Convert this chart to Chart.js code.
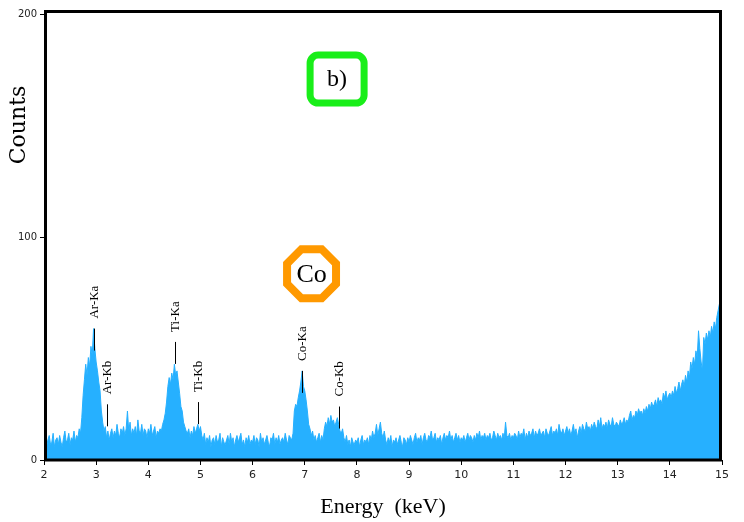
<!DOCTYPE html>
<html>
<head>
<meta charset="utf-8">
<script src="https://cdn.jsdelivr.net/npm/chart.js@4.4.1/dist/chart.umd.min.js"></script>
<style>
  html, body { margin: 0; padding: 0; background: #fff; }
  #wrap { width: 744px; height: 522px; position: relative; }
</style>
</head>
<body>
<div id="wrap"><canvas id="edsChart"></canvas></div>
<script>
// spectrum channels: 2.000 keV to 15.000 keV, 0.025 keV per channel
const startKeV = 2.0;
const channelKeV = 0.025;
const counts = [
  7, 10, 6, 9, 11, 7, 8, 12, 6, 9,          // 2.000
  10, 7, 11, 8, 6, 10, 13, 8, 9, 12,
  7, 10, 9, 13, 8, 11, 10, 14, 12, 19,
  29, 36, 43, 38, 46, 42, 51, 47, 59, 50,
  44, 40, 35, 31, 22, 17, 13, 15, 10, 13,   // 3.000
  9, 12, 14, 10, 13, 11, 16, 12, 10, 14,
  12, 15, 11, 14, 22, 13, 17, 11, 14, 12,
  15, 11, 18, 13, 12, 16, 11, 14, 13, 10,
  14, 12, 16, 11, 13, 15, 10, 13, 12, 14,   // 4.000
  13, 16, 18, 21, 26, 33, 37, 34, 39, 36,
  43, 38, 40, 35, 30, 24, 22, 17, 15, 13,
  12, 14, 10, 13, 11, 15, 12, 14, 16, 13,
  15, 11, 9, 12, 7, 10, 8, 11, 6, 9,        // 5.000
  10, 7, 11, 8, 9, 12, 6, 10, 8, 7,
  9, 11, 7, 12, 8, 10, 6, 9, 11, 8,
  10, 12, 7, 9, 6, 10, 8, 11, 7, 9,
  8, 11, 7, 10, 9, 6, 12, 8, 10, 7,         // 6.000
  9, 11, 8, 6, 10, 9, 12, 7, 10, 8,
  11, 7, 9, 10, 8, 12, 9, 7, 11, 10,
  9, 12, 22, 25, 24, 28, 31, 35, 40, 33,
  31, 27, 22, 16, 14, 11, 13, 9, 11, 8,     // 7.000
  10, 12, 8, 11, 9, 14, 17, 15, 19, 16,
  20, 17, 18, 15, 17, 19, 16, 13, 12, 14,
  10, 8, 11, 7, 9, 6, 10, 8, 7, 9,
  8, 10, 6, 9, 11, 7, 9, 8, 10, 7,          // 8.000
  11, 9, 13, 10, 12, 16, 11, 14, 17, 12,
  10, 13, 9, 7, 10, 8, 11, 6, 9, 8,
  10, 7, 9, 11, 8, 6, 10, 9, 7, 10,
  8, 11, 9, 7, 10, 12, 8, 10, 9, 11,        // 9.000
  7, 10, 12, 9, 8, 11, 10, 13, 9, 10,
  12, 8, 10, 9, 11, 7, 10, 12, 9, 11,
  10, 13, 9, 11, 8, 10, 12, 9, 11, 8,
  10, 9, 11, 8, 10, 12, 9, 11, 10, 8,       // 10.000
  11, 9, 12, 10, 13, 9, 11, 10, 12, 9,
  11, 10, 12, 9, 10, 13, 11, 9, 12, 10,
  11, 9, 12, 10, 17, 11, 10, 12, 9, 11,
  10, 12, 11, 9, 13, 10, 12, 11, 14, 9,     // 11.000
  12, 10, 13, 11, 12, 14, 10, 13, 11, 12,
  14, 11, 12, 13, 10, 14, 12, 11, 13, 15,
  11, 13, 12, 14, 11, 16, 13, 12, 14, 11,
  13, 15, 12, 14, 11, 13, 16, 12, 14, 10,   // 12.000
  13, 15, 12, 16, 14, 13, 17, 14, 15, 13,
  16, 14, 17, 15, 14, 18, 15, 19, 14, 16,
  15, 17, 14, 18, 16, 15, 19, 16, 15, 17,
  16, 15, 18, 16, 17, 19, 16, 18, 17, 20,   // 13.000
  22, 18, 20, 19, 22, 20, 23, 21, 22, 20,
  23, 21, 24, 22, 25, 23, 26, 24, 25, 27,
  24, 28, 26, 27, 25, 30, 28, 31, 27, 29,
  30, 28, 31, 29, 33, 30, 32, 35, 31, 34,   // 14.000
  36, 33, 38, 35, 40, 37, 44, 41, 46, 43,
  49, 46, 58, 50, 44, 40, 55, 52, 57, 54,
  58, 55, 60, 57, 62, 59, 64, 67, 70, 72,
  75                                        // 15.000
];

const xTicks = [2, 3, 4, 5, 6, 7, 8, 9, 10, 11, 12, 13, 14, 15];
const yTicks = [0, 100, 200];

const peakLabels = ["Ar-Ka", "Ar-Kb", "Ti-Ka", "Ti-Kb", "Co-Ka", "Co-Kb"];
const peakKeV = [2.96, 3.20, 4.51, 4.95, 6.95, 7.66];
const peakMarkTop = [59, 25, 53, 26, 40, 24];

const boxText = "b)";
const boxKeV = 7.62, boxCounts = 171;
const elementText = "Co";
const elementKeV = 7.13, elementCounts = 83.6;

const points = counts.map((c, i) => ({ x: startKeV + i * channelKeV, y: c }));

const decor = {
  id: "decor",
  afterDatasetsDraw(chart) {
    const { ctx, chartArea: a, scales: { x, y } } = chart;
    ctx.save();

    // peak markers
    ctx.strokeStyle = "#000";
    ctx.lineWidth = 1;
    ctx.fillStyle = "#000";
    ctx.font = "13px 'Liberation Serif'";
    peakLabels.forEach((lab, i) => {
      const px = Math.round(x.getPixelForValue(peakKeV[i])) + 0.5;
      const top = y.getPixelForValue(peakMarkTop[i]);
      ctx.beginPath();
      ctx.moveTo(px, top);
      ctx.lineTo(px, top + 22);
      ctx.stroke();
      ctx.save();
      ctx.translate(px, top - 10);
      ctx.rotate(-Math.PI / 2);
      ctx.textAlign = "left";
      ctx.textBaseline = "middle";
      ctx.fillText(lab, 0, 0);
      ctx.restore();
    });

    // green rounded box
    const bx = x.getPixelForValue(boxKeV), by = y.getPixelForValue(boxCounts);
    ctx.strokeStyle = "#19ee19";
    ctx.lineWidth = 7;
    ctx.beginPath();
    ctx.roundRect(bx - 27, by - 24, 54, 48, 8);
    ctx.stroke();
    ctx.fillStyle = "#000";
    ctx.font = "24px 'Liberation Serif'";
    ctx.textAlign = "center";
    ctx.textBaseline = "middle";
    ctx.fillText(boxText, bx, by + 1);

    // orange octagon
    const ox = x.getPixelForValue(elementKeV), oy = y.getPixelForValue(elementCounts);
    const r = 26.5;
    ctx.strokeStyle = "#ff9900";
    ctx.lineWidth = 8;
    ctx.beginPath();
    for (let k = 0; k < 8; k++) {
      const ang = Math.PI / 8 + k * Math.PI / 4;
      const vx = ox + r * Math.cos(ang), vy = oy + r * Math.sin(ang);
      if (k === 0) ctx.moveTo(vx, vy); else ctx.lineTo(vx, vy);
    }
    ctx.closePath();
    ctx.stroke();
    ctx.fillStyle = "#000";
    ctx.font = "26px 'Liberation Serif'";
    ctx.fillText(elementText, ox, oy + 1);

    // frame
    ctx.strokeStyle = "#000";
    ctx.lineWidth = 3;
    ctx.strokeRect(a.left + 1.5, a.top + 1.5, a.right - a.left - 3, a.bottom - a.top - 1.5);

    // axis titles
    ctx.fillStyle = "#000";
    ctx.font = "22px 'Liberation Serif'";
    ctx.textAlign = "center";
    ctx.textBaseline = "middle";
    ctx.fillText("Energy  (keV)", 383, 507);
    ctx.save();
    ctx.translate(19, 125);
    ctx.rotate(-Math.PI / 2);
    ctx.font = "22px 'DejaVu Serif'";
    ctx.fillText("Counts", 0, 0);
    ctx.restore();

    ctx.restore();
  }
};

new Chart(document.getElementById("edsChart"), {
  type: "line",
  data: {
    datasets: [{
      data: points,
      borderColor: "#26b0ff",
      backgroundColor: "#26b0ff",
      borderWidth: 1,
      pointRadius: 0,
      tension: 0,
      fill: "origin"
    }]
  },
  options: {
    responsive: true,
    maintainAspectRatio: false,
    animation: false,
    layout: { padding: { left: 0, right: 22, top: 10, bottom: 0 } },
    plugins: { legend: { display: false }, tooltip: { enabled: false } },
    scales: {
      x: {
        type: "linear",
        min: 2,
        max: 15,
        afterBuildTicks: s => { s.ticks = xTicks.map(v => ({ value: v })); },
        afterFit: s => { s.height = 62; },
        ticks: { color: "#222", font: { family: "DejaVu Sans", size: 11 }, padding: 4, maxRotation: 0 },
        grid: { drawOnChartArea: false, drawTicks: true, tickLength: 5, color: "#000" },
        border: { display: false }
      },
      y: {
        min: 0,
        max: 202,
        afterBuildTicks: s => { s.ticks = yTicks.map(v => ({ value: v })); },
        afterFit: s => { s.width = 44; },
        ticks: { color: "#222", font: { family: "DejaVu Sans", size: 10 }, padding: 3 },
        grid: { drawOnChartArea: false, drawTicks: true, tickLength: 4, color: "#000" },
        border: { display: false }
      }
    }
  },
  plugins: [decor]
});
</script>
</body>
</html>
